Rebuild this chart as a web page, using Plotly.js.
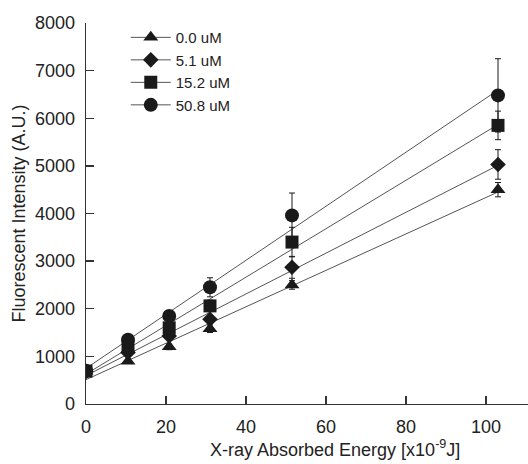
<!DOCTYPE html>
<html><head><meta charset="utf-8">
<script src="https://cdn.plot.ly/plotly-3.0.1.min.js"></script>
<style>html,body{margin:0;padding:0;background:#fff}#chart{width:528px;height:464px}</style>
</head><body><div id="chart"></div>
<script>
const energy = [0, 10.5, 20.8, 31, 51.5, 103];
const seriesNames = ["0.0 uM", "5.1 uM", "15.2 uM", "50.8 uM"];
const intensity00 = [680, 900, 1200, 1580, 2500, 4500];
const intensity51 = [680, 1080, 1430, 1780, 2870, 5030];
const intensity152 = [690, 1200, 1600, 2060, 3400, 5850];
const intensity508 = [700, 1350, 1850, 2450, 3960, 6480];
const err00 = [40, 40, 60, 80, 90, 150];
const err51 = [40, 40, 60, 80, 230, 310];
const err152 = [40, 50, 60, 120, 310, 300];
const err508 = [40, 50, 60, 200, 470, 770];
const xTicks = [0, 20, 40, 60, 80, 100];
const yTicks = [0, 1000, 2000, 3000, 4000, 5000, 6000, 7000, 8000];
const xTitle = "X-ray Absorbed Energy [x10<sup>-9</sup>J]";
const yTitle = "Fluorescent Intensity (A.U.)";

const series = [intensity00, intensity51, intensity152, intensity508];
const errs = [err00, err51, err152, err508];
const symbols = ["triangle-up", "diamond", "square", "circle"];
const sizes = [13, 12, 13, 14];
const ink = "#1a1a1a";

function fit(x, y) {
  const n = x.length;
  const mx = x.reduce((a, b) => a + b, 0) / n;
  const my = y.reduce((a, b) => a + b, 0) / n;
  let sxy = 0, sxx = 0;
  for (let i = 0; i < n; i++) { sxy += (x[i] - mx) * (y[i] - my); sxx += (x[i] - mx) ** 2; }
  const b = sxy / sxx;
  return [my - b * mx, b];
}

const traces = [];
const xEnds = [energy[0], energy[energy.length - 1]];
series.forEach((y) => {
  const [a, b] = fit(energy, y);
  traces.push({x: xEnds, y: xEnds.map(v => a + b * v), mode: "lines", showlegend: false,
    line: {color: "#555", width: 1}, hoverinfo: "skip"});
});
series.forEach((y, i) => {
  traces.push({x: energy, y: y, mode: "markers", showlegend: false,
    marker: {symbol: symbols[i], size: sizes[i], color: ink},
    error_y: {type: "data", array: errs[i], visible: true, color: ink, thickness: 1, width: 3}});
});
series.forEach((y, i) => {
  traces.push({x: [null], y: [null], mode: "lines+markers", name: seriesNames[i],
    marker: {symbol: symbols[i], size: sizes[i], color: ink}, line: {color: "#555", width: 1}});
});

const layout = {
  width: 528, height: 464,
  margin: {l: 86, r: 0, t: 23, b: 60},
  paper_bgcolor: "#fff", plot_bgcolor: "#fff",
  font: {family: "Liberation Sans, Arial, sans-serif", color: "#222"},
  showlegend: true,
  legend: {x: 0.09, y: 1.005, xanchor: "left", yanchor: "top", bgcolor: "rgba(0,0,0,0)",
    font: {size: 15, color: "#222"}, tracegroupgap: 0, itemwidth: 40},
  xaxis: {range: [0, 110.5], tickvals: xTicks, ticks: "inside", ticklen: 8, tickwidth: 1.3,
    tickcolor: "#333", showline: true, linecolor: "#333", linewidth: 1.3, showgrid: false,
    zeroline: false, tickfont: {size: 18}, ticklabelstandoff: 6},
  yaxis: {range: [0, 8000], tickvals: yTicks, ticks: "inside", ticklen: 8, tickwidth: 1.3,
    tickcolor: "#333", showline: true, linecolor: "#333", linewidth: 1.3, showgrid: false,
    zeroline: false, tickfont: {size: 18}, ticklabelstandoff: 6,
    title: {text: yTitle, font: {size: 18}, standoff: 4}},
  annotations: [{text: xTitle, xref: "paper", yref: "paper", x: 0.563, y: -0.118,
    xanchor: "center", yanchor: "middle", showarrow: false, font: {size: 18, color: "#222"}}]
};
Plotly.newPlot("chart", traces, layout, {staticPlot: true, displayModeBar: false});
</script></body></html>
